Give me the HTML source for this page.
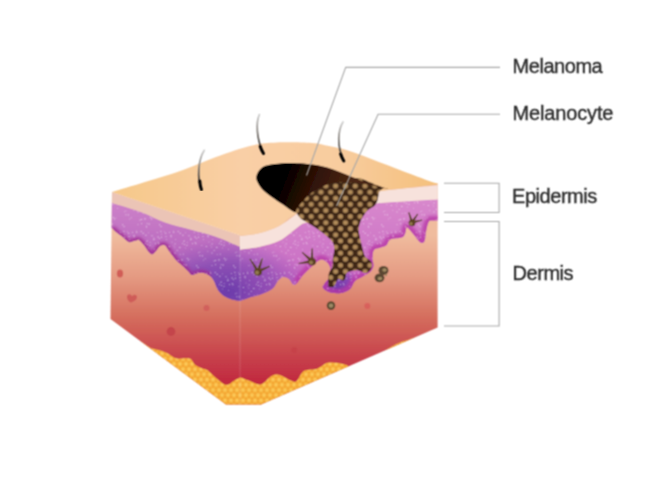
<!DOCTYPE html>
<html><head><meta charset="utf-8">
<style>
html,body{margin:0;padding:0;background:#fff;}
body{width:666px;height:482px;overflow:hidden;position:relative;}
svg{position:absolute;left:0;top:0;}
.lbl{position:absolute;font-family:"Liberation Sans",sans-serif;font-size:20px;letter-spacing:-0.45px;color:#2a2a2a;-webkit-text-stroke:0.35px #2a2a2a;filter:url(#soft);white-space:nowrap;line-height:1;}
</style></head><body>
<svg width="666" height="482" viewBox="0 0 666 482">
<defs>
  <linearGradient id="gTop" x1="112" y1="0" x2="438" y2="0" gradientUnits="userSpaceOnUse">
    <stop offset="0" stop-color="#f6c889"/>
    <stop offset="0.4" stop-color="#f9cfa6"/>
    <stop offset="0.7" stop-color="#f8cc9e"/>
    <stop offset="1" stop-color="#f4c07c"/>
  </linearGradient>
  <linearGradient id="gDerm" x1="0" y1="235" x2="0" y2="402" gradientUnits="userSpaceOnUse">
    <stop offset="0" stop-color="#f0bc9e"/>
    <stop offset="0.25" stop-color="#e49a82"/>
    <stop offset="0.5" stop-color="#d46c5c"/>
    <stop offset="0.75" stop-color="#c63e4a"/>
    <stop offset="1" stop-color="#bd1535"/>
  </linearGradient>
  <linearGradient id="gPurL" x1="0" y1="205" x2="0" y2="300" gradientUnits="userSpaceOnUse">
    <stop offset="0" stop-color="#cc80c8"/>
    <stop offset="0.45" stop-color="#bb6cc0"/>
    <stop offset="1" stop-color="#9450b4"/>
  </linearGradient>
  <linearGradient id="gPurR" x1="0" y1="200" x2="0" y2="295" gradientUnits="userSpaceOnUse">
    <stop offset="0" stop-color="#d888cc"/>
    <stop offset="0.6" stop-color="#cc74c6"/>
    <stop offset="1" stop-color="#c05abc"/>
  </linearGradient>
  <radialGradient id="gViolet" cx="228" cy="292" r="85" gradientUnits="userSpaceOnUse" gradientTransform="translate(228 292) scale(1 0.62) translate(-228 -292)">
    <stop offset="0" stop-color="#6a3aaa" stop-opacity="0.95"/>
    <stop offset="0.55" stop-color="#7a45b0" stop-opacity="0.6"/>
    <stop offset="1" stop-color="#8a50b8" stop-opacity="0"/>
  </radialGradient>
  <linearGradient id="gHole" x1="270" y1="168" x2="350" y2="200" gradientUnits="userSpaceOnUse">
    <stop offset="0" stop-color="#000"/>
    <stop offset="0.2" stop-color="#030000"/>
    <stop offset="0.5" stop-color="#2c1006"/>
    <stop offset="0.8" stop-color="#42200e"/>
    <stop offset="1" stop-color="#4c2814"/>
  </linearGradient>
  <pattern id="pCells" x="0" y="0" width="9.8" height="12.2" patternUnits="userSpaceOnUse">
    <rect width="9.8" height="12.2" fill="#3e2616"/>
    <ellipse cx="2.45" cy="3.05" rx="2.75" ry="2.55" fill="#a07c50"/>
    <ellipse cx="7.35" cy="9.15" rx="2.75" ry="2.55" fill="#a07c50"/>
    <ellipse cx="-2.45" cy="9.15" rx="2.75" ry="2.55" fill="#a07c50"/>
    <ellipse cx="12.25" cy="3.05" rx="2.75" ry="2.55" fill="#a07c50"/>
    <ellipse cx="2.45" cy="3.05" rx="1.4" ry="1.3" fill="#b8925e"/>
    <ellipse cx="7.35" cy="9.15" rx="1.4" ry="1.3" fill="#b8925e"/>
  </pattern>
  <pattern id="pFat" x="0" y="0" width="6" height="10.4" patternUnits="userSpaceOnUse">
    <rect width="6" height="10.4" fill="#f09626"/>
    <g fill="#f8b640"><circle cx="0" cy="0" r="2.8"/><circle cx="6" cy="0" r="2.8"/><circle cx="0" cy="10.4" r="2.8"/><circle cx="6" cy="10.4" r="2.8"/><circle cx="3" cy="5.2" r="2.8"/></g>
    <g fill="#fccb5c"><circle cx="0" cy="0" r="1.4"/><circle cx="6" cy="0" r="1.4"/><circle cx="0" cy="10.4" r="1.4"/><circle cx="6" cy="10.4" r="1.4"/><circle cx="3" cy="5.2" r="1.4"/></g>
  </pattern>
  <radialGradient id="gViolet2" cx="338" cy="288" r="22" gradientUnits="userSpaceOnUse">
    <stop offset="0" stop-color="#6a38a8" stop-opacity="0.95"/>
    <stop offset="0.6" stop-color="#7a40b0" stop-opacity="0.8"/>
    <stop offset="1" stop-color="#9048b8" stop-opacity="0"/>
  </radialGradient>
  <filter id="blur2" x="-10%" y="-10%" width="120%" height="120%"><feGaussianBlur stdDeviation="1.8"/></filter>
  <filter id="speckle" x="0" y="0" width="100%" height="100%" filterUnits="userSpaceOnUse"><feTurbulence type="fractalNoise" baseFrequency="0.5" numOctaves="1" seed="7"/><feColorMatrix type="matrix" values="0 0 0 0 1  0 0 0 0 1  0 0 0 0 1  3.2 0 0 0 -1.5"/></filter>
  <filter id="soft" x="-2%" y="-2%" width="104%" height="104%"><feConvolveMatrix order="3" kernelMatrix="1 2 1 2 4 2 1 2 1" divisor="16" edgeMode="none" preserveAlpha="false"/></filter>
  <clipPath id="cL"><path d="M112,192 L240.5,235.5 L240.5,404.5 L226,404.5 L110.5,319 Z"/></clipPath>
  <clipPath id="cR"><path d="M240,235.5 L300,203 L380,186 L437.6,183.5 L437.6,327.5 L261,404.5 L240,404.5 Z"/></clipPath>
</defs>
<g filter="url(#soft)">
<defs><pattern id="pSpeck" x="0" y="0" width="37" height="41" patternUnits="userSpaceOnUse" fill="#fff"><circle cx="23.0" cy="30.4" r="0.7"/><circle cx="34.9" cy="30.3" r="0.8"/><circle cx="1.1" cy="19.1" r="0.8"/><circle cx="24.0" cy="36.9" r="0.5"/><circle cx="17.4" cy="10.1" r="0.6"/><circle cx="21.2" cy="0.5" r="0.5"/><circle cx="10.3" cy="37.6" r="0.7"/><circle cx="5.9" cy="32.7" r="0.5"/><circle cx="22.8" cy="5.2" r="0.5"/><circle cx="32.2" cy="8.6" r="0.5"/><circle cx="36.3" cy="35.8" r="0.6"/><circle cx="35.6" cy="22.1" r="0.7"/><circle cx="7.6" cy="38.6" r="0.7"/><circle cx="35.8" cy="36.6" r="0.6"/><circle cx="13.4" cy="6.8" r="0.5"/><circle cx="2.4" cy="12.4" r="0.7"/><circle cx="0.1" cy="27.8" r="0.6"/><circle cx="11.5" cy="33.6" r="0.6"/><circle cx="11.7" cy="19.7" r="0.7"/><circle cx="2.1" cy="40.0" r="0.5"/><circle cx="27.7" cy="34.6" r="0.5"/><circle cx="29.1" cy="15.0" r="0.7"/><circle cx="0.3" cy="1.9" r="0.5"/><circle cx="35.3" cy="8.1" r="0.7"/><circle cx="34.4" cy="38.6" r="0.6"/><circle cx="13.1" cy="21.5" r="0.7"/><circle cx="4.0" cy="30.7" r="0.7"/><circle cx="31.8" cy="1.5" r="0.8"/><circle cx="3.4" cy="14.0" r="0.7"/><circle cx="34.0" cy="13.9" r="0.8"/><circle cx="20.2" cy="12.8" r="0.6"/><circle cx="6.6" cy="3.2" r="0.5"/><circle cx="25.5" cy="40.9" r="0.5"/><circle cx="1.8" cy="40.5" r="0.6"/><circle cx="15.0" cy="9.7" r="0.7"/><circle cx="30.6" cy="18.7" r="0.6"/><circle cx="2.1" cy="37.6" r="0.5"/><circle cx="18.3" cy="34.4" r="0.5"/><circle cx="27.1" cy="38.9" r="0.7"/><circle cx="29.2" cy="4.4" r="0.6"/><circle cx="5.5" cy="34.6" r="0.6"/><circle cx="16.8" cy="41.0" r="0.7"/><circle cx="36.1" cy="18.6" r="0.6"/><circle cx="27.0" cy="19.6" r="0.6"/><circle cx="14.9" cy="6.0" r="0.6"/><circle cx="36.6" cy="39.4" r="0.7"/><circle cx="18.5" cy="13.9" r="0.5"/><circle cx="10.1" cy="32.1" r="0.8"/><circle cx="13.4" cy="32.2" r="0.7"/><circle cx="25.7" cy="27.2" r="0.7"/><circle cx="13.4" cy="28.9" r="0.5"/><circle cx="18.0" cy="31.6" r="0.7"/><circle cx="10.9" cy="38.8" r="0.7"/><circle cx="21.5" cy="0.5" r="0.6"/><circle cx="9.3" cy="27.5" r="0.6"/><circle cx="30.2" cy="26.5" r="0.7"/><circle cx="12.9" cy="26.4" r="0.7"/><circle cx="30.6" cy="14.4" r="0.7"/><circle cx="32.2" cy="28.2" r="0.8"/><circle cx="35.4" cy="21.2" r="0.6"/><circle cx="6.1" cy="34.3" r="0.8"/><circle cx="17.7" cy="28.3" r="0.7"/><circle cx="27.0" cy="7.0" r="0.7"/><circle cx="21.5" cy="27.3" r="0.6"/><circle cx="23.1" cy="31.8" r="0.7"/><circle cx="26.7" cy="1.1" r="0.5"/><circle cx="16.3" cy="26.7" r="0.5"/><circle cx="25.4" cy="25.9" r="0.5"/><circle cx="17.4" cy="9.3" r="0.5"/><circle cx="4.9" cy="13.0" r="0.5"/></pattern><clipPath id="cPL"><path d="M100.0,199.0 L112.0,202.5 L112.0,202.5 C117.0,204.1 133.2,208.8 142.0,212.0 C150.8,215.2 157.0,219.2 165.0,222.0 C173.0,224.8 181.7,226.7 190.0,229.0 C198.3,231.3 206.6,233.1 215.0,236.0 C223.4,238.9 236.2,244.8 240.5,246.5 L241.0,302.0 L240.5,301.0 C239.1,300.8 234.8,300.3 232.0,299.5 C229.2,298.7 226.3,297.6 224.0,296.0 C221.7,294.4 219.7,292.5 218.0,290.0 C216.3,287.5 215.3,283.3 214.0,281.0 C212.7,278.7 211.7,277.3 210.0,276.0 C208.3,274.7 206.0,273.5 204.0,273.0 C202.0,272.5 200.0,272.7 198.0,273.0 C196.0,273.3 193.7,275.3 192.0,275.0 C190.3,274.7 189.8,272.8 188.0,271.0 C186.2,269.2 183.0,266.3 181.0,264.5 C179.0,262.7 178.0,262.2 176.0,260.0 C174.0,257.8 170.8,253.4 169.0,251.0 C167.2,248.6 166.5,246.3 165.0,245.5 C163.5,244.7 161.5,245.1 160.0,246.0 C158.5,246.9 157.5,249.7 156.0,251.0 C154.5,252.3 153.2,255.2 151.0,254.0 C148.8,252.8 145.1,246.3 143.0,244.0 C140.9,241.7 140.1,240.5 138.6,240.0 C137.1,239.5 135.7,240.7 134.0,241.0 C132.3,241.3 130.7,242.8 128.7,242.0 C126.7,241.2 124.1,238.2 122.0,236.5 C119.9,234.8 117.7,233.4 116.0,232.0 C114.3,230.6 112.7,228.7 112.0,228.0 L100.0,228.0 Z"/></clipPath><clipPath id="cPR"><path d="M235.0,250.0 L240.0,249.8 C243.3,249.3 253.5,248.1 259.9,246.7 C266.3,245.2 273.4,243.5 278.6,241.1 C283.8,238.7 287.1,235.3 291.0,232.4 C294.9,229.5 300.3,225.1 302.2,223.7 L378.7,202.8 L378.7,202.8 C383.5,202.5 397.2,201.6 407.4,201.0 C417.6,200.4 434.6,199.3 440.0,199.0 L440.0,220.0 L440.0,220.5 C438.8,220.5 434.9,220.3 433.0,220.5 C431.1,220.7 430.0,219.9 428.8,221.8 C427.6,223.7 426.7,228.8 426.0,232.0 C425.3,235.2 425.5,239.2 424.6,241.0 C423.7,242.8 422.3,243.5 420.5,242.5 C418.7,241.5 416.1,237.4 414.0,235.0 C411.9,232.6 409.2,229.2 408.0,228.0 C406.8,226.8 407.0,226.5 406.5,227.5 C406.0,228.5 405.8,232.3 405.0,234.0 C404.2,235.7 404.2,236.5 401.8,237.4 C399.4,238.3 393.0,238.0 390.4,239.4 C387.8,240.8 387.9,244.2 386.2,245.6 C384.5,247.0 382.0,247.0 380.0,247.7 C378.0,248.4 375.2,248.3 374.0,250.0 C372.8,251.7 372.6,255.3 372.5,258.0 C372.4,260.7 373.9,263.7 373.5,266.0 C373.1,268.3 371.9,270.2 370.0,272.0 C368.1,273.8 364.5,275.5 362.0,277.0 C359.5,278.5 357.0,279.0 355.0,281.0 C353.0,283.0 352.3,287.0 350.0,289.0 C347.7,291.0 344.2,292.4 341.0,293.0 C337.8,293.6 334.0,293.3 331.0,292.5 C328.0,291.7 324.0,289.6 323.0,288.0 C322.0,286.4 323.8,285.0 325.0,283.0 C326.2,281.0 329.7,278.7 330.5,276.0 C331.3,273.3 330.7,269.4 330.0,267.0 C329.3,264.6 327.7,262.8 326.1,261.6 C324.6,260.4 322.9,258.9 320.7,259.6 C318.4,260.3 315.5,263.1 312.6,265.7 C309.7,268.3 305.7,272.2 303.1,275.1 C300.5,278.0 298.7,281.6 297.0,283.2 C295.3,284.8 294.3,285.2 293.0,284.5 C291.7,283.8 290.6,280.2 289.0,279.0 C287.4,277.8 285.3,276.8 283.5,277.0 C281.7,277.2 280.0,278.6 278.2,280.5 C276.4,282.4 275.5,286.2 272.8,288.5 C270.1,290.8 266.1,292.4 262.0,294.0 C257.9,295.6 252.2,296.8 248.5,298.0 C244.8,299.2 241.4,300.5 240.0,301.0 L235.0,301.0 Z"/></clipPath></defs>
<g clip-path="url(#cL)">
  <rect x="100" y="180" width="145" height="230" fill="url(#gDerm)"/>
  <path fill="url(#pFat)" d="M140.0,341.0 L151.2,348.2 C152.8,348.6 157.8,349.7 160.6,350.6 C163.4,351.5 165.7,352.4 168.3,353.7 C170.9,355.0 173.2,357.5 176.1,358.3 C178.9,359.1 182.9,358.2 185.4,358.3 C187.9,358.4 189.3,358.1 190.9,359.1 C192.5,360.1 192.9,362.9 194.8,364.5 C196.7,366.1 200.4,367.5 202.5,368.4 C204.6,369.3 205.1,368.6 207.2,370.0 C209.3,371.4 211.9,374.5 215.0,377.0 C218.1,379.5 222.8,384.2 225.9,384.8 C229.0,385.4 231.1,382.2 233.6,380.9 C236.1,379.6 239.8,377.6 241.0,377.0 L241.0,410.0 L140.0,410.0 Z"/>
  <path fill="url(#gPurL)" d="M100.0,199.0 L112.0,202.5 L112.0,202.5 C117.0,204.1 133.2,208.8 142.0,212.0 C150.8,215.2 157.0,219.2 165.0,222.0 C173.0,224.8 181.7,226.7 190.0,229.0 C198.3,231.3 206.6,233.1 215.0,236.0 C223.4,238.9 236.2,244.8 240.5,246.5 L241.0,302.0 L240.5,301.0 C239.1,300.8 234.8,300.3 232.0,299.5 C229.2,298.7 226.3,297.6 224.0,296.0 C221.7,294.4 219.7,292.5 218.0,290.0 C216.3,287.5 215.3,283.3 214.0,281.0 C212.7,278.7 211.7,277.3 210.0,276.0 C208.3,274.7 206.0,273.5 204.0,273.0 C202.0,272.5 200.0,272.7 198.0,273.0 C196.0,273.3 193.7,275.3 192.0,275.0 C190.3,274.7 189.8,272.8 188.0,271.0 C186.2,269.2 183.0,266.3 181.0,264.5 C179.0,262.7 178.0,262.2 176.0,260.0 C174.0,257.8 170.8,253.4 169.0,251.0 C167.2,248.6 166.5,246.3 165.0,245.5 C163.5,244.7 161.5,245.1 160.0,246.0 C158.5,246.9 157.5,249.7 156.0,251.0 C154.5,252.3 153.2,255.2 151.0,254.0 C148.8,252.8 145.1,246.3 143.0,244.0 C140.9,241.7 140.1,240.5 138.6,240.0 C137.1,239.5 135.7,240.7 134.0,241.0 C132.3,241.3 130.7,242.8 128.7,242.0 C126.7,241.2 124.1,238.2 122.0,236.5 C119.9,234.8 117.7,233.4 116.0,232.0 C114.3,230.6 112.7,228.7 112.0,228.0 L100.0,228.0 Z"/>
  <path fill="url(#gViolet)" d="M100.0,199.0 L112.0,202.5 L112.0,202.5 C117.0,204.1 133.2,208.8 142.0,212.0 C150.8,215.2 157.0,219.2 165.0,222.0 C173.0,224.8 181.7,226.7 190.0,229.0 C198.3,231.3 206.6,233.1 215.0,236.0 C223.4,238.9 236.2,244.8 240.5,246.5 L241.0,302.0 L240.5,301.0 C239.1,300.8 234.8,300.3 232.0,299.5 C229.2,298.7 226.3,297.6 224.0,296.0 C221.7,294.4 219.7,292.5 218.0,290.0 C216.3,287.5 215.3,283.3 214.0,281.0 C212.7,278.7 211.7,277.3 210.0,276.0 C208.3,274.7 206.0,273.5 204.0,273.0 C202.0,272.5 200.0,272.7 198.0,273.0 C196.0,273.3 193.7,275.3 192.0,275.0 C190.3,274.7 189.8,272.8 188.0,271.0 C186.2,269.2 183.0,266.3 181.0,264.5 C179.0,262.7 178.0,262.2 176.0,260.0 C174.0,257.8 170.8,253.4 169.0,251.0 C167.2,248.6 166.5,246.3 165.0,245.5 C163.5,244.7 161.5,245.1 160.0,246.0 C158.5,246.9 157.5,249.7 156.0,251.0 C154.5,252.3 153.2,255.2 151.0,254.0 C148.8,252.8 145.1,246.3 143.0,244.0 C140.9,241.7 140.1,240.5 138.6,240.0 C137.1,239.5 135.7,240.7 134.0,241.0 C132.3,241.3 130.7,242.8 128.7,242.0 C126.7,241.2 124.1,238.2 122.0,236.5 C119.9,234.8 117.7,233.4 116.0,232.0 C114.3,230.6 112.7,228.7 112.0,228.0 L100.0,228.0 Z"/>
  <g clip-path="url(#cPL)"><path fill="none" stroke="#a02c92" stroke-opacity="0.85" stroke-width="6" filter="url(#blur2)" d="M112.0,228.0 C112.7,228.7 114.3,230.6 116.0,232.0 C117.7,233.4 119.9,234.8 122.0,236.5 C124.1,238.2 126.7,241.2 128.7,242.0 C130.7,242.8 132.3,241.3 134.0,241.0 C135.7,240.7 137.1,239.5 138.6,240.0 C140.1,240.5 140.9,241.7 143.0,244.0 C145.1,246.3 148.8,252.8 151.0,254.0 C153.2,255.2 154.5,252.3 156.0,251.0 C157.5,249.7 158.5,246.9 160.0,246.0 C161.5,245.1 163.5,244.7 165.0,245.5 C166.5,246.3 167.2,248.6 169.0,251.0 C170.8,253.4 174.0,257.8 176.0,260.0 C178.0,262.2 179.0,262.7 181.0,264.5 C183.0,266.3 186.2,269.2 188.0,271.0 C189.8,272.8 190.3,274.7 192.0,275.0 C193.7,275.3 196.0,273.3 198.0,273.0 C200.0,272.7 202.0,272.5 204.0,273.0 C206.0,273.5 209.0,275.5 210.0,276.0 "/></g>
  <path fill="url(#pSpeck)" d="M100.0,199.0 L112.0,202.5 L112.0,202.5 C117.0,204.1 133.2,208.8 142.0,212.0 C150.8,215.2 157.0,219.2 165.0,222.0 C173.0,224.8 181.7,226.7 190.0,229.0 C198.3,231.3 206.6,233.1 215.0,236.0 C223.4,238.9 236.2,244.8 240.5,246.5 L241.0,302.0 L240.5,301.0 C239.1,300.8 234.8,300.3 232.0,299.5 C229.2,298.7 226.3,297.6 224.0,296.0 C221.7,294.4 219.7,292.5 218.0,290.0 C216.3,287.5 215.3,283.3 214.0,281.0 C212.7,278.7 211.7,277.3 210.0,276.0 C208.3,274.7 206.0,273.5 204.0,273.0 C202.0,272.5 200.0,272.7 198.0,273.0 C196.0,273.3 193.7,275.3 192.0,275.0 C190.3,274.7 189.8,272.8 188.0,271.0 C186.2,269.2 183.0,266.3 181.0,264.5 C179.0,262.7 178.0,262.2 176.0,260.0 C174.0,257.8 170.8,253.4 169.0,251.0 C167.2,248.6 166.5,246.3 165.0,245.5 C163.5,244.7 161.5,245.1 160.0,246.0 C158.5,246.9 157.5,249.7 156.0,251.0 C154.5,252.3 153.2,255.2 151.0,254.0 C148.8,252.8 145.1,246.3 143.0,244.0 C140.9,241.7 140.1,240.5 138.6,240.0 C137.1,239.5 135.7,240.7 134.0,241.0 C132.3,241.3 130.7,242.8 128.7,242.0 C126.7,241.2 124.1,238.2 122.0,236.5 C119.9,234.8 117.7,233.4 116.0,232.0 C114.3,230.6 112.7,228.7 112.0,228.0 L100.0,228.0 Z" opacity="0.4"/>
  <path fill="#ebc4b6" d="M100.0,188.0 L112.0,192.0 L240.5,235.5 L240.5,248.0 L240.5,247.0 C236.2,245.2 223.4,239.4 215.0,236.5 C206.6,233.6 198.3,231.8 190.0,229.5 C181.7,227.2 173.0,225.3 165.0,222.5 C157.0,219.7 150.8,215.8 142.0,212.5 C133.2,209.2 117.0,204.6 112.0,203.0 L100.0,200.0 Z"/>
  <ellipse cx="120" cy="273.5" rx="3.1" ry="3.9" fill="#cc4e4c" opacity="0.8"/>
  <path d="M127,296 C 128,293 132,294 132,296.5 C 133,294 137,294 137,297 C 137,300 133,302 131,302.5 C 129,302 126.5,299 127,296 Z" fill="#cc5254" opacity="0.8"/>
  <circle cx="206.5" cy="308" r="3" fill="#d05a5a" opacity="0.8"/>
  <circle cx="171" cy="331.5" r="4.4" fill="#c03e48" opacity="0.8"/>
  <rect x="239" y="230" width="1.5" height="180" fill="#fff" opacity="0.07"/>
</g>
<g clip-path="url(#cR)">
  <rect x="235" y="175" width="210" height="235" fill="url(#gDerm)"/>
  <path fill="url(#pFat)" d="M236.0,377.0 L239.3,377.0 C241.2,377.7 247.1,380.0 250.7,381.2 C254.3,382.4 257.6,385.2 261.1,384.3 C264.6,383.4 268.4,377.6 271.5,376.0 C274.6,374.4 276.7,374.3 279.8,375.0 C282.9,375.7 287.4,379.2 290.2,380.2 C293.0,381.2 294.3,382.6 296.4,381.2 C298.5,379.8 300.5,373.8 302.6,371.9 C304.7,370.0 306.4,370.3 308.8,369.8 C311.2,369.3 314.3,369.8 317.1,368.8 C319.9,367.8 323.2,364.7 325.4,363.6 C327.5,362.6 327.9,362.6 330.0,362.5 C332.1,362.4 335.5,362.6 338.0,363.0 C340.5,363.4 343.0,363.9 345.0,364.6 C347.0,365.3 349.2,366.6 350.0,367.0 L350.0,420.0 L236.0,420.0 Z"/>
  <path fill="url(#pFat)" d="M386,350 C 392,346 398,343 404,341 C 409,339.5 413,338 418,337 L425,334 L430,360 L385,360 Z"/>
  <path fill="url(#gPurR)" d="M235.0,250.0 L240.0,249.8 C243.3,249.3 253.5,248.1 259.9,246.7 C266.3,245.2 273.4,243.5 278.6,241.1 C283.8,238.7 287.1,235.3 291.0,232.4 C294.9,229.5 300.3,225.1 302.2,223.7 L378.7,202.8 L378.7,202.8 C383.5,202.5 397.2,201.6 407.4,201.0 C417.6,200.4 434.6,199.3 440.0,199.0 L440.0,220.0 L440.0,220.5 C438.8,220.5 434.9,220.3 433.0,220.5 C431.1,220.7 430.0,219.9 428.8,221.8 C427.6,223.7 426.7,228.8 426.0,232.0 C425.3,235.2 425.5,239.2 424.6,241.0 C423.7,242.8 422.3,243.5 420.5,242.5 C418.7,241.5 416.1,237.4 414.0,235.0 C411.9,232.6 409.2,229.2 408.0,228.0 C406.8,226.8 407.0,226.5 406.5,227.5 C406.0,228.5 405.8,232.3 405.0,234.0 C404.2,235.7 404.2,236.5 401.8,237.4 C399.4,238.3 393.0,238.0 390.4,239.4 C387.8,240.8 387.9,244.2 386.2,245.6 C384.5,247.0 382.0,247.0 380.0,247.7 C378.0,248.4 375.2,248.3 374.0,250.0 C372.8,251.7 372.6,255.3 372.5,258.0 C372.4,260.7 373.9,263.7 373.5,266.0 C373.1,268.3 371.9,270.2 370.0,272.0 C368.1,273.8 364.5,275.5 362.0,277.0 C359.5,278.5 357.0,279.0 355.0,281.0 C353.0,283.0 352.3,287.0 350.0,289.0 C347.7,291.0 344.2,292.4 341.0,293.0 C337.8,293.6 334.0,293.3 331.0,292.5 C328.0,291.7 324.0,289.6 323.0,288.0 C322.0,286.4 323.8,285.0 325.0,283.0 C326.2,281.0 329.7,278.7 330.5,276.0 C331.3,273.3 330.7,269.4 330.0,267.0 C329.3,264.6 327.7,262.8 326.1,261.6 C324.6,260.4 322.9,258.9 320.7,259.6 C318.4,260.3 315.5,263.1 312.6,265.7 C309.7,268.3 305.7,272.2 303.1,275.1 C300.5,278.0 298.7,281.6 297.0,283.2 C295.3,284.8 294.3,285.2 293.0,284.5 C291.7,283.8 290.6,280.2 289.0,279.0 C287.4,277.8 285.3,276.8 283.5,277.0 C281.7,277.2 280.0,278.6 278.2,280.5 C276.4,282.4 275.5,286.2 272.8,288.5 C270.1,290.8 266.1,292.4 262.0,294.0 C257.9,295.6 252.2,296.8 248.5,298.0 C244.8,299.2 241.4,300.5 240.0,301.0 L235.0,301.0 Z"/>
  <path fill="url(#gViolet)" d="M235.0,250.0 L240.0,249.8 C243.3,249.3 253.5,248.1 259.9,246.7 C266.3,245.2 273.4,243.5 278.6,241.1 C283.8,238.7 287.1,235.3 291.0,232.4 C294.9,229.5 300.3,225.1 302.2,223.7 L378.7,202.8 L378.7,202.8 C383.5,202.5 397.2,201.6 407.4,201.0 C417.6,200.4 434.6,199.3 440.0,199.0 L440.0,220.0 L440.0,220.5 C438.8,220.5 434.9,220.3 433.0,220.5 C431.1,220.7 430.0,219.9 428.8,221.8 C427.6,223.7 426.7,228.8 426.0,232.0 C425.3,235.2 425.5,239.2 424.6,241.0 C423.7,242.8 422.3,243.5 420.5,242.5 C418.7,241.5 416.1,237.4 414.0,235.0 C411.9,232.6 409.2,229.2 408.0,228.0 C406.8,226.8 407.0,226.5 406.5,227.5 C406.0,228.5 405.8,232.3 405.0,234.0 C404.2,235.7 404.2,236.5 401.8,237.4 C399.4,238.3 393.0,238.0 390.4,239.4 C387.8,240.8 387.9,244.2 386.2,245.6 C384.5,247.0 382.0,247.0 380.0,247.7 C378.0,248.4 375.2,248.3 374.0,250.0 C372.8,251.7 372.6,255.3 372.5,258.0 C372.4,260.7 373.9,263.7 373.5,266.0 C373.1,268.3 371.9,270.2 370.0,272.0 C368.1,273.8 364.5,275.5 362.0,277.0 C359.5,278.5 357.0,279.0 355.0,281.0 C353.0,283.0 352.3,287.0 350.0,289.0 C347.7,291.0 344.2,292.4 341.0,293.0 C337.8,293.6 334.0,293.3 331.0,292.5 C328.0,291.7 324.0,289.6 323.0,288.0 C322.0,286.4 323.8,285.0 325.0,283.0 C326.2,281.0 329.7,278.7 330.5,276.0 C331.3,273.3 330.7,269.4 330.0,267.0 C329.3,264.6 327.7,262.8 326.1,261.6 C324.6,260.4 322.9,258.9 320.7,259.6 C318.4,260.3 315.5,263.1 312.6,265.7 C309.7,268.3 305.7,272.2 303.1,275.1 C300.5,278.0 298.7,281.6 297.0,283.2 C295.3,284.8 294.3,285.2 293.0,284.5 C291.7,283.8 290.6,280.2 289.0,279.0 C287.4,277.8 285.3,276.8 283.5,277.0 C281.7,277.2 280.0,278.6 278.2,280.5 C276.4,282.4 275.5,286.2 272.8,288.5 C270.1,290.8 266.1,292.4 262.0,294.0 C257.9,295.6 252.2,296.8 248.5,298.0 C244.8,299.2 241.4,300.5 240.0,301.0 L235.0,301.0 Z"/>
  <path fill="url(#gViolet2)" d="M235.0,250.0 L240.0,249.8 C243.3,249.3 253.5,248.1 259.9,246.7 C266.3,245.2 273.4,243.5 278.6,241.1 C283.8,238.7 287.1,235.3 291.0,232.4 C294.9,229.5 300.3,225.1 302.2,223.7 L378.7,202.8 L378.7,202.8 C383.5,202.5 397.2,201.6 407.4,201.0 C417.6,200.4 434.6,199.3 440.0,199.0 L440.0,220.0 L440.0,220.5 C438.8,220.5 434.9,220.3 433.0,220.5 C431.1,220.7 430.0,219.9 428.8,221.8 C427.6,223.7 426.7,228.8 426.0,232.0 C425.3,235.2 425.5,239.2 424.6,241.0 C423.7,242.8 422.3,243.5 420.5,242.5 C418.7,241.5 416.1,237.4 414.0,235.0 C411.9,232.6 409.2,229.2 408.0,228.0 C406.8,226.8 407.0,226.5 406.5,227.5 C406.0,228.5 405.8,232.3 405.0,234.0 C404.2,235.7 404.2,236.5 401.8,237.4 C399.4,238.3 393.0,238.0 390.4,239.4 C387.8,240.8 387.9,244.2 386.2,245.6 C384.5,247.0 382.0,247.0 380.0,247.7 C378.0,248.4 375.2,248.3 374.0,250.0 C372.8,251.7 372.6,255.3 372.5,258.0 C372.4,260.7 373.9,263.7 373.5,266.0 C373.1,268.3 371.9,270.2 370.0,272.0 C368.1,273.8 364.5,275.5 362.0,277.0 C359.5,278.5 357.0,279.0 355.0,281.0 C353.0,283.0 352.3,287.0 350.0,289.0 C347.7,291.0 344.2,292.4 341.0,293.0 C337.8,293.6 334.0,293.3 331.0,292.5 C328.0,291.7 324.0,289.6 323.0,288.0 C322.0,286.4 323.8,285.0 325.0,283.0 C326.2,281.0 329.7,278.7 330.5,276.0 C331.3,273.3 330.7,269.4 330.0,267.0 C329.3,264.6 327.7,262.8 326.1,261.6 C324.6,260.4 322.9,258.9 320.7,259.6 C318.4,260.3 315.5,263.1 312.6,265.7 C309.7,268.3 305.7,272.2 303.1,275.1 C300.5,278.0 298.7,281.6 297.0,283.2 C295.3,284.8 294.3,285.2 293.0,284.5 C291.7,283.8 290.6,280.2 289.0,279.0 C287.4,277.8 285.3,276.8 283.5,277.0 C281.7,277.2 280.0,278.6 278.2,280.5 C276.4,282.4 275.5,286.2 272.8,288.5 C270.1,290.8 266.1,292.4 262.0,294.0 C257.9,295.6 252.2,296.8 248.5,298.0 C244.8,299.2 241.4,300.5 240.0,301.0 L235.0,301.0 Z"/>
  <g clip-path="url(#cPR)"><path fill="none" stroke="#b83aa6" stroke-opacity="0.8" stroke-width="9" filter="url(#blur2)" d="M297.0,283.2 C298.0,281.9 300.5,278.0 303.1,275.1 C305.7,272.2 309.7,268.3 312.6,265.7 C315.5,263.1 318.4,260.3 320.7,259.6 C322.9,258.9 324.6,260.4 326.1,261.6 C327.7,262.8 329.3,264.6 330.0,267.0 C330.7,269.4 331.3,273.3 330.5,276.0 C329.7,278.7 326.2,281.0 325.0,283.0 C323.8,285.0 322.0,286.4 323.0,288.0 C324.0,289.6 328.0,291.7 331.0,292.5 C334.0,293.3 337.8,293.6 341.0,293.0 C344.2,292.4 347.7,291.0 350.0,289.0 C352.3,287.0 353.0,283.0 355.0,281.0 C357.0,279.0 359.5,278.5 362.0,277.0 C364.5,275.5 368.1,273.8 370.0,272.0 C371.9,270.2 373.1,268.3 373.5,266.0 C373.9,263.7 372.4,260.7 372.5,258.0 C372.6,255.3 372.8,251.7 374.0,250.0 C375.2,248.3 378.0,248.4 380.0,247.7 C382.0,247.0 384.5,247.0 386.2,245.6 C387.9,244.2 387.8,240.8 390.4,239.4 C393.0,238.0 399.4,238.3 401.8,237.4 C404.2,236.5 404.2,235.7 405.0,234.0 C405.8,232.3 406.0,228.5 406.5,227.5 C407.0,226.5 406.8,226.8 408.0,228.0 C409.2,229.2 411.9,232.6 414.0,235.0 C416.1,237.4 418.7,241.5 420.5,242.5 C422.3,243.5 423.7,242.8 424.6,241.0 C425.5,239.2 425.3,235.2 426.0,232.0 C426.7,228.8 427.6,223.7 428.8,221.8 C430.0,219.9 431.1,220.7 433.0,220.5 C434.9,220.3 438.8,220.5 440.0,220.5 "/></g>
  <path fill="url(#pSpeck)" d="M235.0,250.0 L240.0,249.8 C243.3,249.3 253.5,248.1 259.9,246.7 C266.3,245.2 273.4,243.5 278.6,241.1 C283.8,238.7 287.1,235.3 291.0,232.4 C294.9,229.5 300.3,225.1 302.2,223.7 L378.7,202.8 L378.7,202.8 C383.5,202.5 397.2,201.6 407.4,201.0 C417.6,200.4 434.6,199.3 440.0,199.0 L440.0,220.0 L440.0,220.5 C438.8,220.5 434.9,220.3 433.0,220.5 C431.1,220.7 430.0,219.9 428.8,221.8 C427.6,223.7 426.7,228.8 426.0,232.0 C425.3,235.2 425.5,239.2 424.6,241.0 C423.7,242.8 422.3,243.5 420.5,242.5 C418.7,241.5 416.1,237.4 414.0,235.0 C411.9,232.6 409.2,229.2 408.0,228.0 C406.8,226.8 407.0,226.5 406.5,227.5 C406.0,228.5 405.8,232.3 405.0,234.0 C404.2,235.7 404.2,236.5 401.8,237.4 C399.4,238.3 393.0,238.0 390.4,239.4 C387.8,240.8 387.9,244.2 386.2,245.6 C384.5,247.0 382.0,247.0 380.0,247.7 C378.0,248.4 375.2,248.3 374.0,250.0 C372.8,251.7 372.6,255.3 372.5,258.0 C372.4,260.7 373.9,263.7 373.5,266.0 C373.1,268.3 371.9,270.2 370.0,272.0 C368.1,273.8 364.5,275.5 362.0,277.0 C359.5,278.5 357.0,279.0 355.0,281.0 C353.0,283.0 352.3,287.0 350.0,289.0 C347.7,291.0 344.2,292.4 341.0,293.0 C337.8,293.6 334.0,293.3 331.0,292.5 C328.0,291.7 324.0,289.6 323.0,288.0 C322.0,286.4 323.8,285.0 325.0,283.0 C326.2,281.0 329.7,278.7 330.5,276.0 C331.3,273.3 330.7,269.4 330.0,267.0 C329.3,264.6 327.7,262.8 326.1,261.6 C324.6,260.4 322.9,258.9 320.7,259.6 C318.4,260.3 315.5,263.1 312.6,265.7 C309.7,268.3 305.7,272.2 303.1,275.1 C300.5,278.0 298.7,281.6 297.0,283.2 C295.3,284.8 294.3,285.2 293.0,284.5 C291.7,283.8 290.6,280.2 289.0,279.0 C287.4,277.8 285.3,276.8 283.5,277.0 C281.7,277.2 280.0,278.6 278.2,280.5 C276.4,282.4 275.5,286.2 272.8,288.5 C270.1,290.8 266.1,292.4 262.0,294.0 C257.9,295.6 252.2,296.8 248.5,298.0 C244.8,299.2 241.4,300.5 240.0,301.0 L235.0,301.0 Z" opacity="0.4"/>
  <path fill="#f7e2dc" d="M235.0,236.5 L240.0,236.1 C243.3,235.6 253.5,234.7 259.9,233.0 C266.3,231.3 273.0,229.0 278.6,226.2 C284.2,223.4 289.9,218.7 293.5,216.2 C297.1,213.7 298.9,211.9 300.0,211.0 L376.0,190.0 L376.0,191.5 C381.2,190.9 396.7,189.2 407.4,188.1 C418.1,187.0 434.6,185.5 440.0,185.0 L440.0,199.3 L440.0,199.3 C434.6,199.6 417.6,200.6 407.4,201.2 C397.2,201.8 383.5,202.7 378.7,203.0 L302.2,223.7 L302.2,223.7 C300.3,225.1 294.9,229.5 291.0,232.4 C287.1,235.3 283.8,238.7 278.6,241.1 C273.4,243.5 266.3,245.2 259.9,246.7 C253.5,248.1 243.3,249.3 240.0,249.8 L235.0,250.0 Z"/>
  <circle cx="294.3" cy="350" r="3" fill="#c44048" opacity="0.75"/>
  <circle cx="367.3" cy="306" r="3" fill="#d85858" opacity="0.75"/>
  <rect x="240" y="230" width="1" height="180" fill="#fff" opacity="0.08"/>
</g>
<path fill="url(#gTop)" d="M112.0,192.0 L112.0,192.0 C117.5,190.3 133.2,185.7 145.0,182.0 C156.8,178.3 171.2,174.2 183.0,170.0 C194.8,165.8 204.5,161.1 216.0,157.0 C227.5,152.9 241.8,147.9 252.0,145.5 C262.2,143.1 267.0,142.9 277.0,142.5 C287.0,142.1 303.2,142.4 312.0,143.0 C320.8,143.6 324.2,145.2 330.0,146.3 C335.8,147.5 341.0,148.3 346.5,149.9 C352.0,151.5 357.5,153.6 363.0,155.7 C368.5,157.8 374.0,160.2 379.5,162.3 C385.0,164.4 390.5,166.3 396.0,168.4 C401.5,170.5 407.1,172.6 412.6,174.7 C418.1,176.8 424.9,179.5 429.1,181.0 C433.3,182.5 436.2,183.1 437.6,183.5 L437.6,184.5 C432.5,185.1 416.6,186.9 407.0,188.0 C397.4,189.1 392.8,189.2 380.0,191.2 C367.2,193.2 344.0,196.2 330.0,200.0 C316.0,203.8 304.5,209.4 296.0,213.7 C287.5,218.0 285.0,222.8 279.0,226.0 C273.0,229.2 266.4,231.4 260.0,233.0 C253.6,234.6 243.8,235.1 240.5,235.5 Z"/>
<path fill="url(#pCells)" d="M292.0,206.0 C293.3,207.9 297.9,215.1 299.8,217.5 C301.8,219.9 300.8,218.6 303.7,220.5 C306.6,222.4 312.9,225.7 317.4,228.9 C321.9,232.2 328.0,236.8 330.8,240.0 C333.6,243.2 333.9,244.9 334.2,248.1 C334.5,251.2 333.1,255.7 332.8,258.9 C332.5,262.0 332.9,264.5 332.2,267.0 C331.5,269.5 329.5,270.9 328.8,273.8 C328.1,276.7 327.9,282.4 328.1,284.6 C328.3,286.9 329.1,287.1 330.1,287.3 C331.1,287.5 332.9,287.4 334.2,286.0 C335.5,284.6 336.8,280.1 338.2,279.2 C339.6,278.3 341.2,280.5 342.3,280.5 C343.4,280.5 344.3,280.3 345.0,279.2 C345.7,278.1 345.7,275.0 346.4,273.8 C347.1,272.6 347.0,272.4 349.0,271.8 C351.0,271.2 355.8,270.2 358.5,270.4 C361.2,270.6 363.4,273.1 365.3,273.1 C367.2,273.1 368.9,271.6 370.0,270.4 C371.1,269.2 371.9,267.3 372.0,265.7 C372.1,264.1 371.7,262.4 370.7,261.0 C369.7,259.6 367.1,258.7 366.0,257.5 C364.9,256.3 364.6,255.6 364.0,254.0 C363.4,252.4 363.1,250.3 362.5,248.0 C361.9,245.7 361.1,243.0 360.5,240.0 C359.9,237.0 358.7,233.1 358.7,230.0 C358.7,226.9 359.6,223.9 360.5,221.5 C361.4,219.1 362.6,217.2 363.9,215.3 C365.1,213.4 366.3,211.7 368.0,210.1 C369.7,208.5 372.7,207.6 374.3,206.0 C375.9,204.4 376.5,203.2 377.4,200.8 C378.3,198.4 378.4,193.6 379.5,191.5 C380.6,189.4 383.2,188.6 384.0,188.0 L360.0,178.0 L320.0,180.0 Z"/>
<path fill="url(#gHole)" d="M256.3,176.6 C256.8,173.7 258.9,169.6 262.0,167.5 C265.1,165.4 269.6,164.8 274.9,164.1 C280.2,163.3 286.3,162.7 294.0,163.0 C301.7,163.3 312.5,164.2 321.0,166.0 C329.5,167.8 337.5,171.2 345.0,174.0 C352.5,176.8 358.8,180.0 366.0,182.5 C373.2,185.0 389.2,188.8 388.5,189.0 C387.8,189.2 370.9,184.6 362.0,183.5 C353.1,182.4 343.2,181.1 335.0,182.5 C326.8,183.9 319.0,187.9 312.8,192.0 C306.6,196.1 301.0,203.6 298.0,207.0 C295.0,210.4 297.3,212.7 294.8,212.3 C292.3,211.9 287.9,208.0 283.2,204.8 C278.5,201.6 270.6,196.5 266.6,193.2 C262.6,189.9 260.7,187.8 259.0,185.0 C257.3,182.2 255.8,179.5 256.3,176.6 Z"/>
<path fill="#5a4024" d="M258.2,269.0 L250.7,259.1 L249.9,259.7 L255.7,270.6 Z"/><circle cx="250.3" cy="259.4" r="0.70" fill="#5a4024"/><path fill="#5a4024" d="M260.1,270.1 L262.7,259.1 L261.7,258.7 L257.2,269.1 Z"/><circle cx="262.2" cy="258.9" r="0.70" fill="#5a4024"/><path fill="#5a4024" d="M260.4,272.0 L269.4,266.9 L269.0,265.9 L259.2,269.3 Z"/><circle cx="269.2" cy="266.4" r="0.70" fill="#5a4024"/><ellipse cx="258.0" cy="272.0" rx="4.0" ry="3.8" fill="#5a4024"/><ellipse cx="257.0" cy="272.7" rx="2.0" ry="2.1" fill="#a08858" opacity="0.8"/><path fill="#5a4024" d="M311.5,258.8 L302.8,252.2 L302.2,253.0 L309.5,261.1 Z"/><circle cx="302.5" cy="252.6" r="0.70" fill="#5a4024"/><path fill="#5a4024" d="M313.5,259.3 L312.7,248.9 L311.7,248.9 L310.5,259.3 Z"/><circle cx="312.2" cy="248.9" r="0.70" fill="#5a4024"/><path fill="#5a4024" d="M309.8,260.1 L299.1,262.9 L299.3,263.9 L310.3,263.1 Z"/><circle cx="299.2" cy="263.4" r="0.70" fill="#5a4024"/><ellipse cx="312.0" cy="261.8" rx="4.0" ry="3.8" fill="#5a4024"/><ellipse cx="311.0" cy="262.5" rx="2.0" ry="2.1" fill="#a08858" opacity="0.8"/><path fill="#5a4024" d="M412.6,220.2 L409.5,212.8 L408.5,213.2 L410.2,221.0 Z"/><circle cx="409.0" cy="213.0" r="0.70" fill="#5a4024"/><path fill="#5a4024" d="M414.2,221.6 L417.8,214.8 L417.0,214.2 L412.0,220.1 Z"/><circle cx="417.4" cy="214.5" r="0.70" fill="#5a4024"/><path fill="#5a4024" d="M414.2,223.3 L421.6,220.7 L421.4,219.7 L413.6,220.8 Z"/><circle cx="421.5" cy="220.2" r="0.70" fill="#5a4024"/><ellipse cx="412.0" cy="223.0" rx="3.4" ry="3.2" fill="#5a4024"/><ellipse cx="411.0" cy="223.7" rx="1.7" ry="1.8" fill="#a08858" opacity="0.8"/>

<!-- cells -->
<circle cx="331" cy="305.6" r="4.3" fill="#5a4a30"/>
<circle cx="331" cy="305.6" r="2.2" fill="#9c8a66"/>
<g fill="#5a4630">
<ellipse cx="383.5" cy="270.5" rx="5" ry="4.6"/>
<ellipse cx="379.5" cy="277.8" rx="5" ry="4.4"/>
</g>
<g fill="#a08a62">
<ellipse cx="384.5" cy="270" rx="2.2" ry="1.8"/>
<ellipse cx="380" cy="278.5" rx="2.2" ry="1.8"/>
<ellipse cx="386" cy="275" rx="1.2" ry="1.2"/>
</g>
</g>
<!-- HAIRS -->
<defs>
  <linearGradient id="h1" x1="204" y1="150" x2="201" y2="190" gradientUnits="userSpaceOnUse"><stop offset="0" stop-color="#d0d0d0"/><stop offset="0.4" stop-color="#8a8580"/><stop offset="0.78" stop-color="#3a3430"/><stop offset="1" stop-color="#000"/></linearGradient>
  <linearGradient id="h2" x1="259" y1="114" x2="264" y2="154" gradientUnits="userSpaceOnUse"><stop offset="0" stop-color="#d0d0d0"/><stop offset="0.4" stop-color="#8a8580"/><stop offset="0.78" stop-color="#3a3430"/><stop offset="1" stop-color="#000"/></linearGradient>
  <linearGradient id="h3" x1="343" y1="122" x2="344" y2="162" gradientUnits="userSpaceOnUse"><stop offset="0" stop-color="#d0d0d0"/><stop offset="0.4" stop-color="#8a8580"/><stop offset="0.78" stop-color="#3a3430"/><stop offset="1" stop-color="#000"/></linearGradient>
</defs>
<g fill="none" stroke-linecap="round" filter="url(#soft)">
  <path d="M204.3,150.3 C 198,160 197,178 201.4,189.5" stroke="url(#h1)" stroke-width="1.7"/>
  <path d="M259.4,114.5 C 256,122 256,138 263.5,153.5" stroke="url(#h2)" stroke-width="1.7"/>
  <path d="M343,122 C 338,130 336.5,146 343.8,161" stroke="url(#h3)" stroke-width="1.7"/>
  <path d="M199.8,181 C 200,185 200.6,187.5 201.4,189.5" stroke="#050505" stroke-width="3"/>
  <path d="M260.2,146.5 C 261.2,149.5 262.3,151.5 263.5,153.5" stroke="#050505" stroke-width="3"/>
  <path d="M340.6,154 C 341.6,157 342.6,159 343.8,161" stroke="#050505" stroke-width="3"/>
</g>

<!-- LEADER LINES -->
<g fill="none" stroke="#a8a8a8" stroke-width="1.1" filter="url(#soft)">
  <polyline points="306.5,175.5 345.7,67.4 500,67.4"/>
  <polyline points="336.5,206 378.1,114.2 500,114.2"/>
  <polyline points="444,183.3 499.1,183.3 499.1,212.5 444,212.5"/>
  <polyline points="444,221.5 499.1,221.5 499.1,326 444,326"/>
</g>
</svg>
<div class="lbl" style="left:512.5px;top:55.5px;">Melanoma</div>
<div class="lbl" style="left:512.5px;top:102.5px;letter-spacing:-0.15px;">Melanocyte</div>
<div class="lbl" style="left:512px;top:185.5px;">Epidermis</div>
<div class="lbl" style="left:512.5px;top:262.5px;">Dermis</div>
</body></html>
